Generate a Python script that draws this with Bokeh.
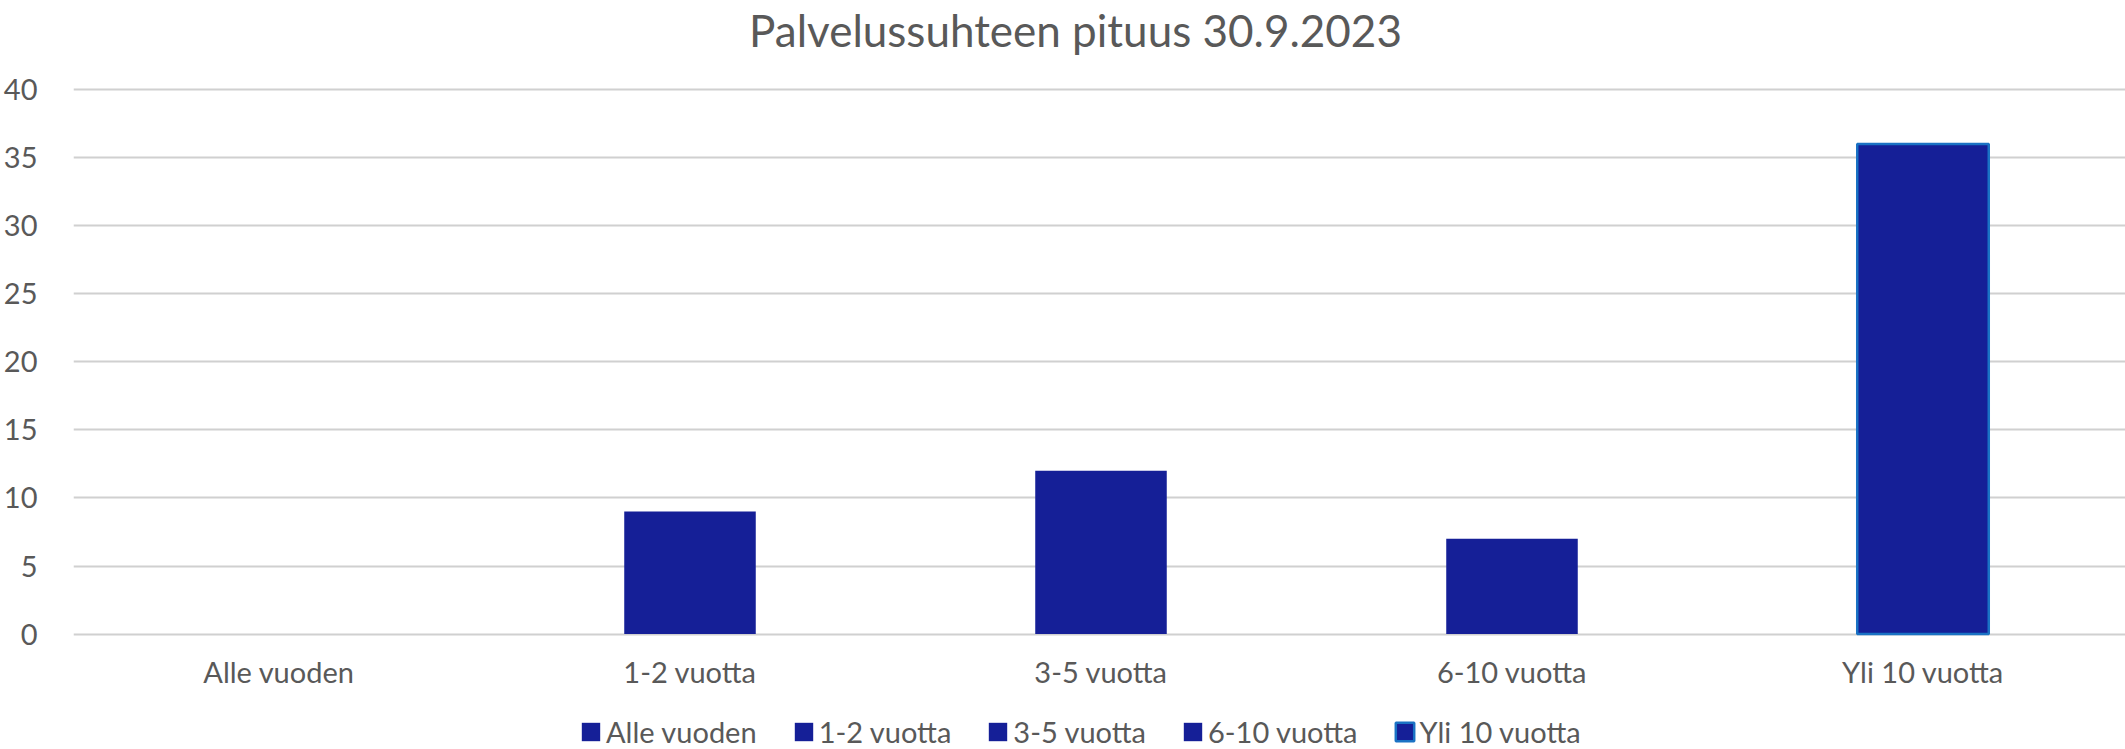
from bokeh.plotting import figure
from bokeh.models import Range1d, FixedTicker, ColumnDataSource, Legend, LegendItem, Label
from bokeh.embed import file_html
from bokeh.resources import INLINE

title_text = "Palvelussuhteen pituus 30.9.2023"
categories = ["Alle vuoden", "1-2 vuotta", "3-5 vuotta", "6-10 vuotta", "Yli 10 vuotta"]
values = [0, 9, 12, 7, 36]
y_ticks = [0, 5, 10, 15, 20, 25, 30, 35, 40]

TEXT = "#595959"
BAR = "#151F97"
FONT = "Lato"

W, H = 2125, 749
LEFT = 73
Y0_PX, Y40_PX = 633.6, 89.0          # pixel rows of the 0 and 40 gridlines
PX_PER_UNIT = (Y0_PX - Y40_PX) / 40.0
CAT_PX = 411.0                        # width of one category slot in px

xs = [i + 0.5 for i in range(len(categories))]
line_colors = [None] * (len(categories) - 1) + ["#1A72C4"]
line_widths = [0] * (len(categories) - 1) + [2.5]

src = ColumnDataSource(dict(x=xs, top=values, cat=categories, lc=line_colors, lw=line_widths))

p = figure(width=W, height=H, output_backend="svg", toolbar_location=None,
           x_range=Range1d(0, (W - LEFT) / CAT_PX),
           y_range=Range1d(-(H - Y0_PX) / PX_PER_UNIT, 40 + Y40_PX / PX_PER_UNIT),
           min_border_left=LEFT, min_border_right=0, min_border_top=0, min_border_bottom=0)
p.outline_line_color = None
p.title.visible = False

title = Label(x=1002, y=H - 29, x_units="screen", y_units="screen", text=title_text,
              text_font=FONT, text_font_size="44px", text_color=TEXT,
              text_align="center", text_baseline="alphabetic")
p.add_layout(title)

r = p.vbar(x="x", top="top", width=0.32, source=src, fill_color=BAR,
           line_color="lc", line_width="lw")

p.xaxis.ticker = FixedTicker(ticks=xs)
p.xaxis.major_label_overrides = {x: c for x, c in zip(xs, categories)}
p.xaxis.major_label_standoff = 14
p.xaxis.fixed_location = 0
p.yaxis.ticker = FixedTicker(ticks=y_ticks)
p.yaxis.major_label_standoff = 30
for ax in (p.xaxis, p.yaxis):
    ax.axis_line_color = None
    ax.major_tick_line_color = None
    ax.minor_tick_line_color = None
    ax.major_label_text_font = FONT
    ax.major_label_text_font_size = "29px"
    ax.major_label_text_color = TEXT

p.xgrid.grid_line_color = None
p.ygrid.grid_line_color = "#D0D0D0"
p.ygrid.grid_line_width = 2

legend = Legend(items=[LegendItem(label=c, renderers=[r], index=i) for i, c in enumerate(categories)],
                orientation="horizontal", location=(506, 0),
                glyph_width=23, glyph_height=23, label_standoff=4, spacing=35,
                padding=0, margin=0, border_line_color=None, background_fill_alpha=0,
                label_text_font=FONT, label_text_font_size="29px", label_text_color=TEXT,
                label_height=23)
p.add_layout(legend, "center")

open("out.html", "w").write(file_html(p, INLINE))
